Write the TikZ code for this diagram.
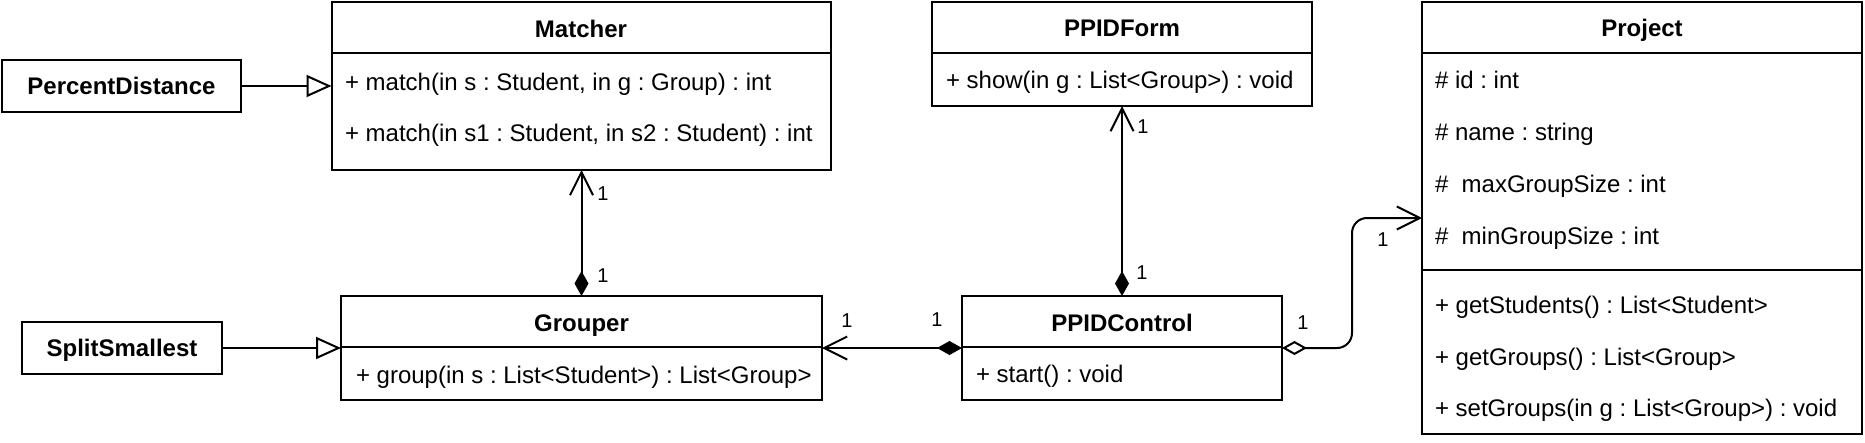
\documentclass[tikz,border=0pt]{standalone}
\usepackage{fontspec}
\setmainfont{Liberation Sans}
\usetikzlibrary{arrows.meta,calc}
\frenchspacing
\begin{document}
\begin{tikzpicture}[x=1pt,y=-1pt,line width=2pt,
  cls/.style={draw,line width=2pt,rectangle,inner sep=0pt,outer sep=0pt},
  ttl/.style={font=\fontsize{24}{28}\selectfont\bfseries,anchor=base,inner sep=0pt},
  mem/.style={font=\fontsize{24}{28}\selectfont,anchor=base west,inner sep=0pt},
  mult/.style={font=\fontsize{20}{22}\selectfont,inner sep=0pt},
  gen/.style={-{Triangle[open,length=25pt,width=22pt]}},
  assoc/.style={-{Straight Barb[length=23pt,width=23pt]}},
  compo/.style={{Diamond[length=25pt,width=14pt]}-{Straight Barb[length=23pt,width=23pt]}},
  aggr/.style={{Diamond[open,fill=white,length=25pt,width=14pt]}-{Straight Barb[length=23pt,width=23pt]}}
]
\useasboundingbox (0,0) rectangle (1865,442);
% classes
\node[cls,minimum width=239pt,minimum height=52pt] (percent) at (121.5,86) {};
\node[cls,minimum width=499pt,minimum height=168pt] (matcher) at (581,86) {};
\node[cls,minimum width=200pt,minimum height=52pt] (split) at (122,348) {};
\node[cls,minimum width=481pt,minimum height=104pt] (grouper) at (581.5,348) {};
\node[cls,minimum width=380pt,minimum height=104pt] (ppidform) at (1122,54) {};
\node[cls,minimum width=320pt,minimum height=104pt] (ppidcontrol) at (1122,348) {};
\node[cls,minimum width=440pt,minimum height=432pt] (project) at (1642,218) {};
% dividers
\draw ([yshift=-51pt]matcher.north west) -- ([yshift=-51pt]matcher.north east);
\draw ([yshift=-51pt]grouper.north west) -- ([yshift=-51pt]grouper.north east);
\draw ([yshift=-51pt]ppidform.north west) -- ([yshift=-51pt]ppidform.north east);
\draw ([yshift=-51pt]ppidcontrol.north west) -- ([yshift=-51pt]ppidcontrol.north east);
\draw ([yshift=-51pt]project.north west) -- ([yshift=-51pt]project.north east);
\draw ([yshift=-268pt]project.north west) -- ([yshift=-268pt]project.north east);
% texts
\node[ttl] (tPercent) at (121.5,94) {PercentDistance};
\node[ttl] (tSplit) at (122,356) {SplitSmallest};
\node[ttl] (tMatcher) at (581,37) {Matcher};
\node[mem] (m1) at (344,90) {+ match(in s : Student, in g : Group) : int};
\node[mem] (m2) at (344,141) {+ match(in s1 : Student, in s2 : Student) : int};
\node[ttl] (tGrouper) at (581.5,331) {Grouper};
\node[mem] (g1) at (355,383) {+ group(in s : List<Student>) : List<Group>};
\node[ttl] (tForm) at (1122,36) {PPIDForm};
\node[mem] (f1) at (945,88) {+ show(in g : List<Group>) : void};
\node[ttl] (tControl) at (1122,331) {PPIDControl};
\node[mem] (c1) at (975,382) {+ start() : void};
\node[ttl] (tProject) at (1642,36) {Project};
\node[mem] (p1) at (1434,88) {\# id : int};
\node[mem] (p2) at (1434,140) {\# name : string};
\node[mem] (p3) at (1434,192) {\#\ \ maxGroupSize : int};
\node[mem] (p4) at (1434,244) {\#\ \ minGroupSize : int};
\node[mem] (p5) at (1434,313) {+ getStudents() : List<Student>};
\node[mem] (p6) at (1434,365) {+ getGroups() : List<Group>};
\node[mem] (p7) at (1434,416) {+ setGroups(in g : List<Group>) : void};
% connectors
\draw[gen] (percent.east) -- (percent.east -| matcher.west);
\draw[gen] (split.east) -- (split.east -| grouper.west);
\draw[compo] (grouper.north) -- (grouper.north |- matcher.south);
\draw[compo] (ppidcontrol.north) -- (ppidform.south);
\draw[compo] (ppidcontrol.west) -- (ppidcontrol.west -| grouper.east);
\draw[aggr,rounded corners=15pt] (ppidcontrol.east) -| ($(ppidcontrol.east)!0.5!(project.west)$) |- (project.west);
% multiplicities
\node[mult] (n1) at (603,194) {1};
\node[mult] (n2) at (603,276) {1};
\node[mult] (n3) at (1143,127) {1};
\node[mult] (n4) at (1142,273) {1};
\node[mult] (n5) at (847,321) {1};
\node[mult] (n6) at (937,320) {1};
\node[mult] (n7) at (1303,323) {1};
\node[mult] (n8) at (1383,240) {1};
\end{tikzpicture}
\end{document}
